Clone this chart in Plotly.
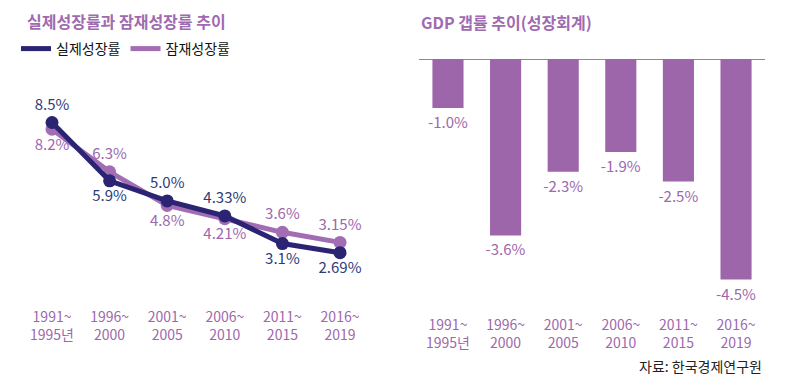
import plotly.graph_objects as go

periods = ["1991~<br>1995년", "1996~<br>2000", "2001~<br>2005", "2006~<br>2010", "2011~<br>2015", "2016~<br>2019"]
actual = [8.5, 5.9, 5.0, 4.33, 3.1, 2.69]
actual_labels = ["8.5%", "5.9%", "5.0%", "4.33%", "3.1%", "2.69%"]
potential = [8.2, 6.3, 4.8, 4.21, 3.6, 3.15]
potential_labels = ["8.2%", "6.3%", "4.8%", "4.21%", "3.6%", "3.15%"]
gap = [-1.0, -3.6, -2.3, -1.9, -2.5, -4.5]
gap_labels = ["-1.0%", "-3.6%", "-2.3%", "-1.9%", "-2.5%", "-4.5%"]

W, H = 792, 392
BLUE = "#2B2472"
BLUE_TXT = "#2E3C78"
PURPLE = "#A36DB4"
PURPLE_TXT = "#9E68AD"
BAR = "#9E66AA"
FONT = "Noto Sans CJK KR"

def px_x(p):
    return p / W

def px_y(p):
    return 1 - p / H

fig = go.Figure()

fig.add_trace(go.Scatter(
    x=periods, y=potential, mode="lines+markers+text",
    line=dict(color=PURPLE, width=5), marker=dict(color=PURPLE, size=13),
    text=potential_labels,
    textposition=["bottom center", "top center", "bottom center", "bottom center", "top center", "top center"],
    textfont=dict(color=PURPLE_TXT, size=15, family=FONT),
    showlegend=False, xaxis="x", yaxis="y", cliponaxis=False,
))
fig.add_trace(go.Scatter(
    x=periods, y=actual, mode="lines+markers+text",
    line=dict(color=BLUE, width=5), marker=dict(color=BLUE, size=13),
    text=actual_labels,
    textposition=["top center", "bottom center", "top center", "top center", "bottom center", "bottom center"],
    textfont=dict(color=BLUE_TXT, size=15, family=FONT),
    showlegend=False, xaxis="x", yaxis="y", cliponaxis=False,
))
# legend entries
fig.add_trace(go.Scatter(x=[None], y=[None], mode="lines", name="실제성장률",
                         line=dict(color=BLUE, width=5), xaxis="x", yaxis="y"))
fig.add_trace(go.Scatter(x=[None], y=[None], mode="lines", name="잠재성장률",
                         line=dict(color=PURPLE, width=5), xaxis="x", yaxis="y"))

fig.add_trace(go.Bar(
    x=periods, y=gap, marker=dict(color=BAR, line=dict(width=0)), width=0.54,
    text=gap_labels, textposition="outside", constraintext="none",
    textfont=dict(color=PURPLE_TXT, size=15, family=FONT),
    showlegend=False, xaxis="x2", yaxis="y2", cliponaxis=False,
))

fig.update_layout(
    width=W, height=H, margin=dict(l=0, r=0, t=0, b=0),
    paper_bgcolor="white", plot_bgcolor="white",
    font=dict(family=FONT, size=13, color="#222"),
    xaxis=dict(domain=[0, px_x(396)], type="category", range=[-0.903, 5.972],
               showgrid=False, zeroline=False, showline=False, ticks="", ticklabelstandoff=7,
               tickfont=dict(color=PURPLE_TXT, size=14, family=FONT), anchor="y"),
    yaxis=dict(domain=[px_y(300), px_y(60)], range=[0.58, 11.29], visible=False, anchor="x"),
    xaxis2=dict(domain=[px_x(419), px_x(765)], type="category", range=[-0.503, 5.503],
                showgrid=False, zeroline=False, showline=False, ticks="", ticklabelstandoff=7,
                tickfont=dict(color=PURPLE_TXT, size=14, family=FONT), anchor="y2"),
    yaxis2=dict(domain=[px_y(308), px_y(50)], range=[-(308 - 59) / 49, (59 - 50) / 49],
                showgrid=False, showticklabels=False, zeroline=True,
                zerolinecolor="#A07AAE", zerolinewidth=1, anchor="x2"),
    legend=dict(orientation="h", x=px_x(16), y=px_y(49), yanchor="middle", xanchor="left",
                font=dict(size=14, color="#111", family=FONT), itemwidth=30,
                bgcolor="rgba(0,0,0,0)", tracegroupgap=0),
    bargap=0.46,
    annotations=[
        dict(text="<b>실제성장률과 잠재성장률 추이</b>", x=px_x(25), y=px_y(21), xref="paper", yref="paper",
             xanchor="left", yanchor="middle", showarrow=False,
             font=dict(size=16, color="#A06AB0", family=FONT)),
        dict(text="<b>GDP 갭률 추이(성장회계)</b>", x=px_x(419), y=px_y(22), xref="paper", yref="paper",
             xanchor="left", yanchor="middle", showarrow=False,
             font=dict(size=16, color="#A06AB0", family=FONT)),
        dict(text="자료: 한국경제연구원", x=px_x(764), y=px_y(366), xref="paper", yref="paper",
             xanchor="right", yanchor="middle", showarrow=False,
             font=dict(size=14, color="#222", family=FONT)),
    ],
)

fig.write_html("out.html", config={"displayModeBar": False},
               post_script="document.body.style.margin='0';document.body.style.overflow='hidden';")
